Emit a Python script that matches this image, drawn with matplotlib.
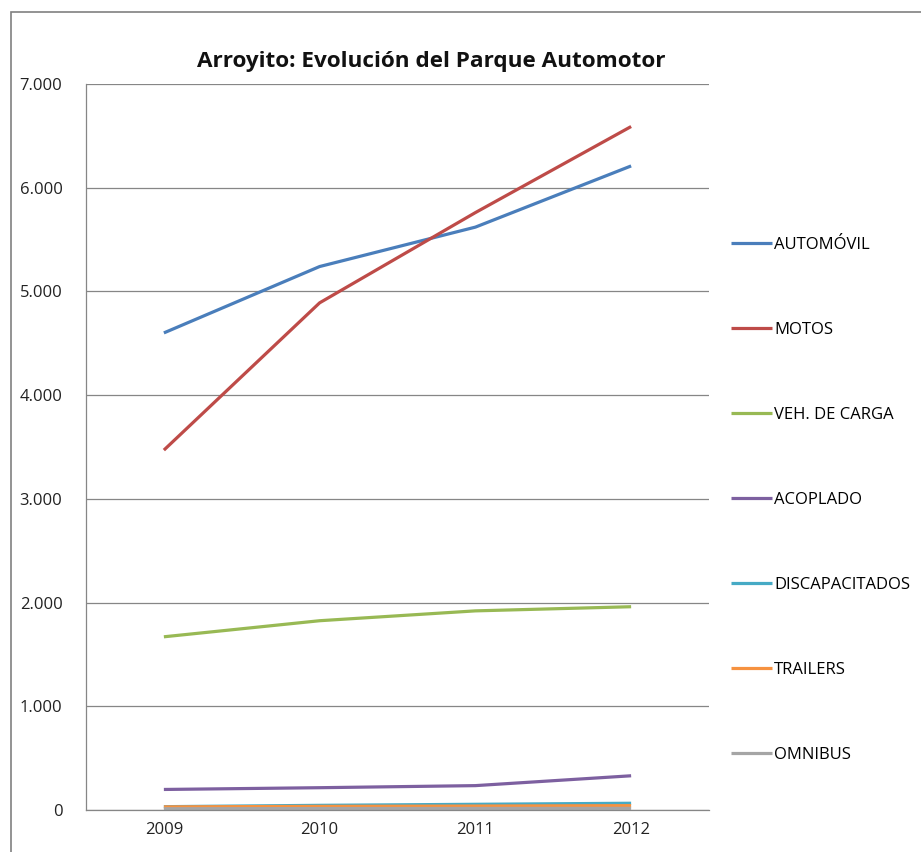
import matplotlib
matplotlib.use("Agg")
import matplotlib.pyplot as plt
from matplotlib.ticker import FuncFormatter, FixedLocator
from matplotlib.patches import Rectangle

years = ["2009", "2010", "2011", "2012"]
automovil = [4600, 5240, 5620, 6210]
motos = [3470, 4890, 5760, 6590]
veh_carga = [1670, 1825, 1920, 1960]
acoplado = [198, 215, 235, 330]
discapacitados = [32, 45, 55, 65]
trailers = [30, 35, 38, 42]
omnibus = [12, 14, 15, 16]

series_names = ["AUTOMÓVIL", "MOTOS", "VEH. DE CARGA", "ACOPLADO",
                "DISCAPACITADOS", "TRAILERS", "OMNIBUS"]
series_values = [automovil, motos, veh_carga, acoplado,
                 discapacitados, trailers, omnibus]
colors = ["#4A7EBB", "#BE4B48", "#98B954", "#7D60A0",
          "#46AAC5", "#F69240", "#A5A5A5"]

plt.rcParams['font.family'] = ['Open Sans', 'DejaVu Sans']

fig = plt.figure(figsize=(9.21, 8.52), dpi=100)
ax = fig.add_axes([86/921, 1-810/852, (709-86)/921, (810-84)/852])

x = list(range(len(years)))
handles = []
for name, vals, c in zip(series_names, series_values, colors):
    h, = ax.plot(x, vals, color=c, lw=2.3, label=name, solid_capstyle='butt')
    handles.append(h)

ax.set_xlim(-0.5, len(years) - 0.5)
ax.set_ylim(0, 7000)
ax.set_xticks(x)
ax.set_xticklabels(years)
ax.yaxis.set_major_locator(FixedLocator(range(0, 7001, 1000)))
ax.yaxis.set_major_formatter(FuncFormatter(lambda v, p: f"{int(v):,}".replace(",", ".")))
ax.grid(axis='y', color='#868686', lw=0.9)
ax.set_axisbelow(True)
for s in ['top', 'right']:
    ax.spines[s].set_visible(False)
for s in ['left', 'bottom']:
    ax.spines[s].set_color('#868686')
    ax.spines[s].set_linewidth(0.9)
ax.tick_params(axis='both', length=0, labelsize=12, colors='#222222')
ax.tick_params(axis='y', pad=17)
ax.tick_params(axis='x', pad=9)

fig.text(431/921, 1-61/852, "Arroyito: Evolución del Parque Automotor",
         ha='center', va='center', fontsize=16.2, fontweight='bold', color='#111111')

leg = fig.legend(handles=handles, loc='upper left',
                 bbox_to_anchor=(724/921, 1-230/852), frameon=False,
                 fontsize=12, handlelength=2.5, handletextpad=0.1,
                 labelspacing=4.14, borderaxespad=0)

fig.patches.append(Rectangle((11/921, -0.1), 1.2, 1-12/852+0.1,
                             transform=fig.transFigure, fill=False,
                             edgecolor='#808080', lw=1.2))

fig.savefig("out.png", dpi=100)
